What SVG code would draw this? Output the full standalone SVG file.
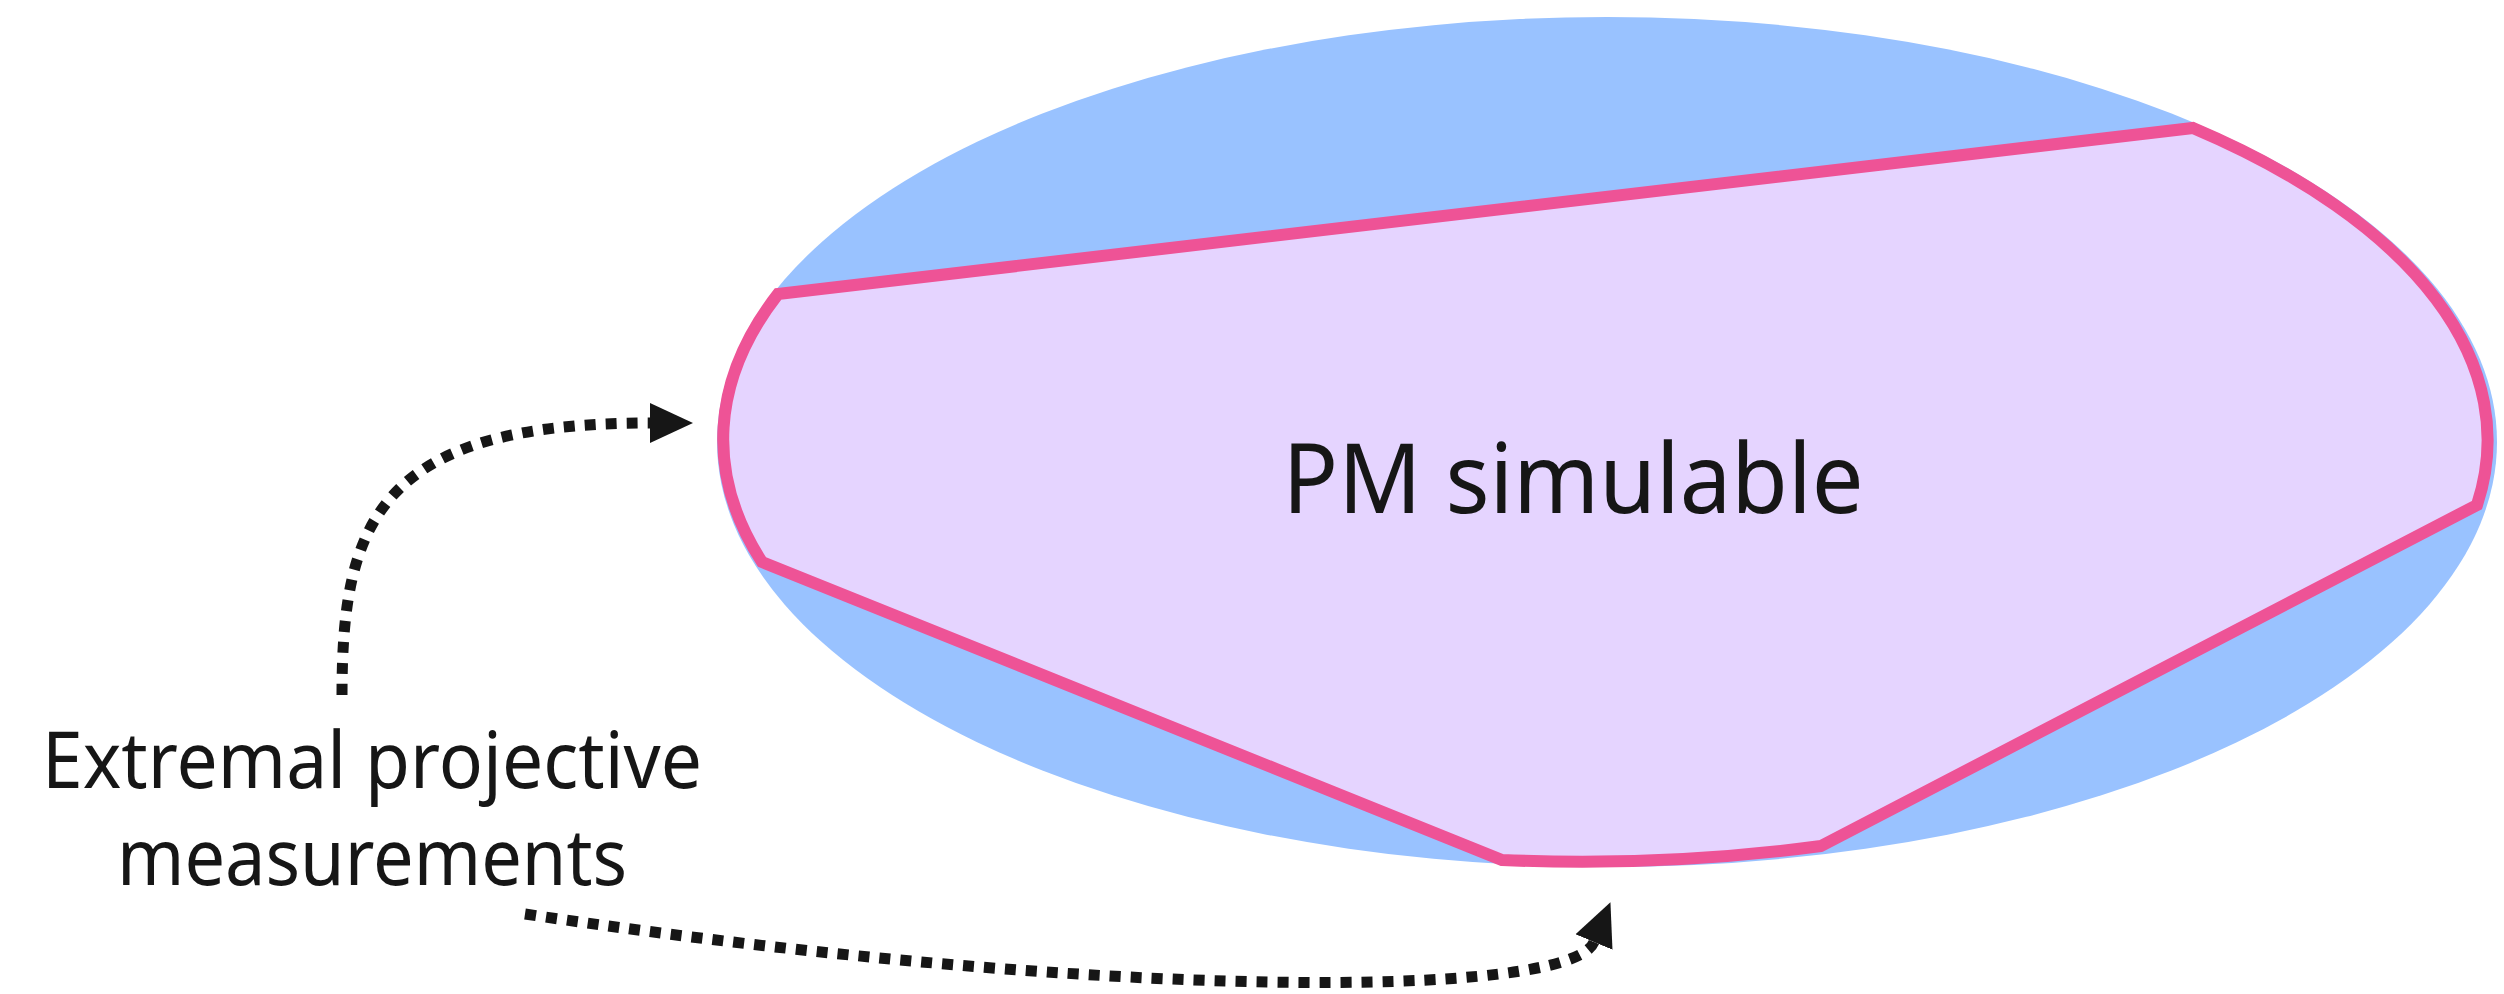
<svg xmlns="http://www.w3.org/2000/svg" width="2504" height="994" viewBox="0 0 2504 994">
  <style>
    .label { font-family: "Noto Sans", "Liberation Sans", sans-serif; fill: #161616; text-anchor: middle; }
    .conn { fill: none; stroke: #161616; stroke-width: 11; stroke-dasharray: 11 10; stroke-linecap: butt; }
  </style>
  <defs>
    <marker id="arrow" markerUnits="userSpaceOnUse" markerWidth="44" markerHeight="42" refX="0" refY="20" orient="auto" viewBox="0 0 44 40">
      <path d="M0 0 L43 20 L0 40 Z" fill="#161616"/>
    </marker>
  </defs>
  <rect width="2504" height="994" fill="#ffffff"/>
  <g id="all-measurements">
    <ellipse cx="1607" cy="442" rx="890" ry="425" fill="#99C2FF"/>
  </g>
  <g id="pm-simulable">
    <path d="M 778 294 L 2193 128 A 884 419 0 0 1 2477 505 L 1821 846 A 884 419 0 0 1 1502 860 L 762 562 A 884 419 0 0 1 778 294 Z" fill="#E5D4FF" stroke="#EE5396" stroke-width="12" stroke-linejoin="miter"/>
    <text class="label" x="1573" y="513" font-size="96" textLength="581" lengthAdjust="spacingAndGlyphs">PM simulable</text>
  </g>
  <g id="extremal-label">
    <text class="label" x="372" y="788" font-size="78" textLength="660" lengthAdjust="spacingAndGlyphs">Extremal projective</text>
    <text class="label" x="372" y="885" font-size="78" textLength="510" lengthAdjust="spacingAndGlyphs">measurements</text>
  </g>
  <g id="connectors">
    <path class="conn" d="M 342 695 C 342 520, 380 423, 650 423" marker-end="url(#arrow)"/>
    <path class="conn" d="M 525 914 C 1100 1000, 1570 1000, 1594 942" marker-end="url(#arrow)"/>
  </g>
</svg>
